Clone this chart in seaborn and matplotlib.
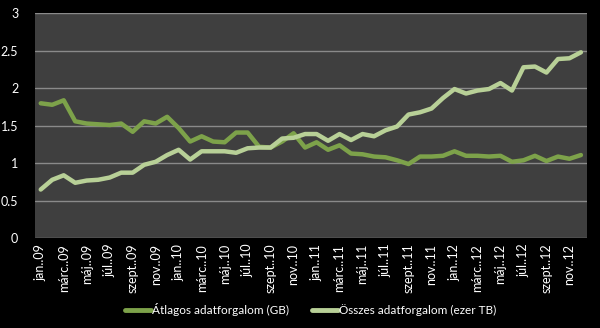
import matplotlib
matplotlib.use("Agg")
import matplotlib.pyplot as plt
import seaborn as sns
import pandas as pd
import numpy as np

months = ["jan.", "febr.", "márc.", "ápr.", "máj.", "jún.", "júl.", "aug.", "szept.", "okt.", "nov.", "dec."]
years = ["09", "10", "11", "12"]
categories = [f"{m}.{y}" for y in years for m in months]

atlagos = [1.80, 1.78, 1.84, 1.56, 1.53, 1.52, 1.51, 1.53, 1.42, 1.56, 1.53, 1.62,
           1.47, 1.29, 1.36, 1.29, 1.28, 1.41, 1.41, 1.22, 1.21, 1.29, 1.40, 1.21,
           1.28, 1.18, 1.24, 1.13, 1.12, 1.09, 1.08, 1.04, 0.99, 1.09, 1.09, 1.10,
           1.16, 1.10, 1.10, 1.09, 1.10, 1.02, 1.04, 1.10, 1.03, 1.09, 1.06, 1.11]
osszes = [0.65, 0.78, 0.84, 0.74, 0.77, 0.78, 0.81, 0.875, 0.875, 0.98, 1.02, 1.11,
          1.18, 1.05, 1.16, 1.16, 1.16, 1.14, 1.20, 1.21, 1.21, 1.33, 1.34, 1.39,
          1.39, 1.30, 1.39, 1.31, 1.39, 1.36, 1.44, 1.49, 1.65, 1.68, 1.73, 1.87,
          1.99, 1.93, 1.97, 1.99, 2.07, 1.97, 2.28, 2.29, 2.21, 2.39, 2.40, 2.48]
series_names = ["Átlagos adatforgalom (GB)", "Összes adatforgalom (ezer TB)"]
colors = ["#7DA24A", "#B8D097"]

df = pd.DataFrame({
    "idx": list(range(len(categories))) * 2,
    "value": atlagos + osszes,
    "series": [series_names[0]] * len(atlagos) + [series_names[1]] * len(osszes),
})

sns.set_theme(style="dark")
plt.rcParams["font.family"] = ["Lato", "DejaVu Sans"]

fig = plt.figure(figsize=(6, 3.28), dpi=100, facecolor="black")
ax = fig.add_axes([0.0583, 0.2735, 0.9195, 0.686])
ax.set_facecolor("#3F3F3F")

sns.lineplot(data=df, x="idx", y="value", hue="series", palette=colors,
             linewidth=3.2, ax=ax, legend=True)

ax.set_xlim(-0.5, len(categories) - 0.5)
ax.set_ylim(0, 3)
ax.set_yticks([0, 0.5, 1, 1.5, 2, 2.5, 3])
ax.set_yticklabels(["0", "0.5", "1", "1.5", "2", "2.5", "3"])
ax.yaxis.grid(True, color="#8A8A8A", linewidth=1)
ax.xaxis.grid(False)
ax.set_axisbelow(True)
ticks = list(range(0, len(categories), 2))
ax.set_xticks(ticks)
ax.set_xticklabels([categories[i] for i in ticks], rotation=90)
ax.tick_params(axis="both", length=0, colors="white", labelsize=9)
ax.tick_params(axis="y", pad=12)
ax.tick_params(axis="x", pad=4)
ax.set_xlabel("")
ax.set_ylabel("")
for s in ax.spines.values():
    s.set_visible(False)

leg = ax.legend(loc="center", bbox_to_anchor=(0.5, -0.315), ncol=2, frameon=False,
                fontsize=8.5, handlelength=2.2, handletextpad=0.1, columnspacing=1.95,
                labelcolor="white")
for line in leg.get_lines():
    line.set_linewidth(3.5)

fig.savefig("out.png", dpi=100, facecolor="black")
